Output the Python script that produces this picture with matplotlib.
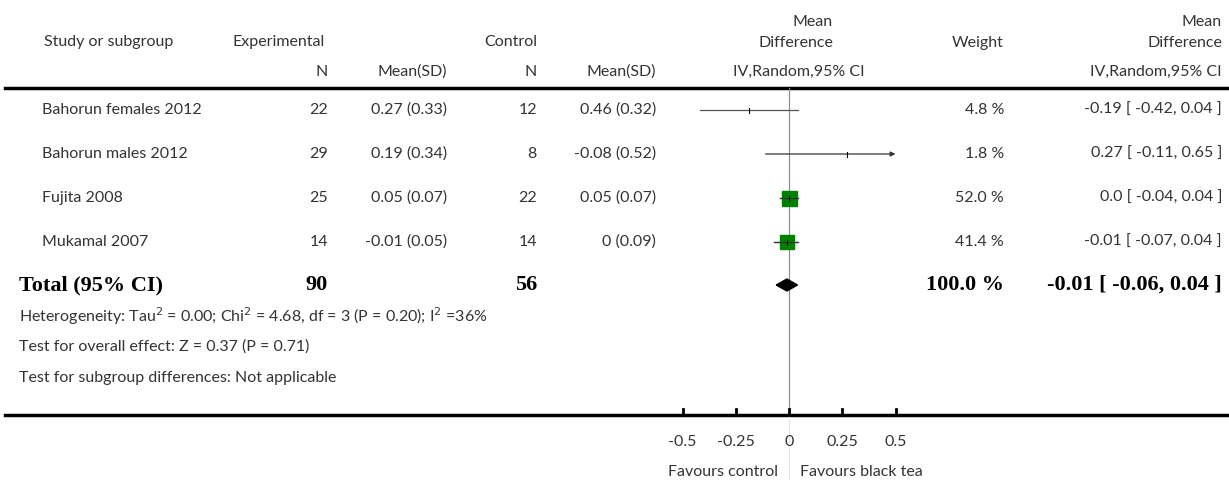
import matplotlib.pyplot as plt
from matplotlib.patches import Rectangle, Polygon

studies = ["Bahorun females 2012", "Bahorun males 2012", "Fujita 2008", "Mukamal 2007"]
exp_n = [22, 29, 25, 14]
exp_msd = ["0.27 (0.33)", "0.19 (0.34)", "0.05 (0.07)", "-0.01 (0.05)"]
ctl_n = [12, 8, 22, 14]
ctl_msd = ["0.46 (0.32)", "-0.08 (0.52)", "0.05 (0.07)", "0 (0.09)"]
md = [-0.19, 0.27, 0.0, -0.01]
lo = [-0.42, -0.11, -0.04, -0.07]
hi = [0.04, 0.65, 0.04, 0.04]
weight = [4.8, 1.8, 52.0, 41.4]
md_text = ["-0.19 [ -0.42, 0.04 ]", "0.27 [ -0.11, 0.65 ]", "0.0 [ -0.04, 0.04 ]", "-0.01 [ -0.07, 0.04 ]"]
total = (-0.01, -0.06, 0.04)
ticks = [-0.5, -0.25, 0, 0.25, 0.5]

W, H = 1229, 480
fig = plt.figure(figsize=(W / 100, H / 100), dpi=100)
ax = fig.add_axes([0, 0, 1, 1])
ax.set_xlim(0, W)
ax.set_ylim(H, 0)
ax.axis("off")

# forest region: 0 at px 789, 213 px per unit
x0, x1 = 640, 940
fx = fig.add_axes([x0 / W, 0, (x1 - x0) / W, 1])
fx.set_xlim((x0 - 789) / 213, (x1 - 789) / 213)
fx.set_ylim(H, 0)
fx.axis("off")

f = dict(family="Lato", fontsize=11.5, color="#333333")
ax.text(44, 42, "Study or subgroup", va="center", **f)
ax.text(232, 42, "Experimental", va="center", **f)
ax.text(537, 42, "Control", ha="right", va="center", **f)
ax.text(833, 22, "Mean", ha="right", va="center", **f)
ax.text(833, 43, "Difference", ha="right", va="center", **f)
ax.text(1004, 43, "Weight", ha="right", va="center", **f)
ax.text(1222, 22, "Mean", ha="right", va="center", **f)
ax.text(1222, 43, "Difference", ha="right", va="center", **f)
ax.text(328, 72, "N", ha="right", va="center", **f)
ax.text(447, 72, "Mean(SD)", ha="right", va="center", **f)
ax.text(537, 72, "N", ha="right", va="center", **f)
ax.text(656, 72, "Mean(SD)", ha="right", va="center", **f)
ax.text(865, 72, "IV,Random,95% CI", ha="right", va="center", **f)
ax.text(1222, 72, "IV,Random,95% CI", ha="right", va="center", **f)
ax.plot([5, 1229], [88, 88], color="black", lw=2.5)

rows = [110, 154, 198, 242]
for i, y in enumerate(rows):
    ax.text(42, y, studies[i], va="center", **f)
    ax.text(328, y, str(exp_n[i]), ha="right", va="center", **f)
    ax.text(447, y, exp_msd[i], ha="right", va="center", **f)
    ax.text(537, y, str(ctl_n[i]), ha="right", va="center", **f)
    ax.text(656, y, ctl_msd[i], ha="right", va="center", **f)
    ax.text(1004, y, f"{weight[i]:.1f} %", ha="right", va="center", **f)
    ax.text(1222, y, md_text[i], ha="right", va="center", **f)
    l, h = max(lo[i], -0.5), min(hi[i], 0.5)
    if hi[i] > 0.5:
        fx.annotate("", xy=(h, y), xytext=(l, y),
                    arrowprops=dict(arrowstyle="-|>", color="#333333", lw=0.9,
                                    mutation_scale=7, shrinkA=0, shrinkB=0))
    else:
        fx.plot([l, h], [y, y], color="#555555", lw=0.9)
    side = 15 * (weight[i] / 52.0) ** 0.5
    if weight[i] > 10:
        wd = side / 213
        fx.add_patch(Rectangle((md[i] - wd / 2, y - side / 2), wd, side,
                               color="green", zorder=3))
        fx.plot([lo[i], hi[i]], [y, y], color="#333333", lw=0.9, zorder=4)
    fx.plot([md[i], md[i]], [y - 2.5, y + 2.5], color="black", lw=0.8, zorder=4)

yt = 285
b = dict(family="Liberation Serif", fontsize=16, fontweight="bold", color="black", va="center")
ax.text(19, yt, "Total (95% CI)", **b)
ax.text(328, yt, "90", ha="right", **b)
ax.text(537, yt, "56", ha="right", **b)
ax.text(1004, yt, "100.0 %", ha="right", **b)
ax.text(1222, yt, "-0.01 [ -0.06, 0.04 ]", ha="right", **b)
m, a, c = total
fx.add_patch(Polygon([(a, yt), (m, yt - 6), (c, yt), (m, yt + 6)],
                     closed=True, color="black", zorder=3))

ax.text(19, 316, "Heterogeneity: Tau$^2$ = 0.00; Chi$^2$ = 4.68, df = 3 (P = 0.20); I$^2$ =36%", va="center", **f)
ax.text(19, 347, "Test for overall effect: Z = 0.37 (P = 0.71)", va="center", **f)
ax.text(19, 378, "Test for subgroup differences: Not applicable", va="center", **f)

ax.plot([5, 1229], [415, 415], color="black", lw=2.5)
fx.plot([0, 0], [88, 415], color="#888888", lw=0.8, zorder=1)
fx.plot([0, 0], [415, 480], color="#e6e6e6", lw=0.8, zorder=1)
for t in ticks:
    fx.plot([t, t], [409, 415], color="black", lw=2)
    fx.text(t, 442, f"{t:g}", ha="center", va="center", **f)
fx.text(-0.05, 472, "Favours control", ha="right", va="center", **f)
fx.text(0.05, 472, "Favours black tea", ha="left", va="center", **f)

fig.savefig("out.png", dpi=100)
